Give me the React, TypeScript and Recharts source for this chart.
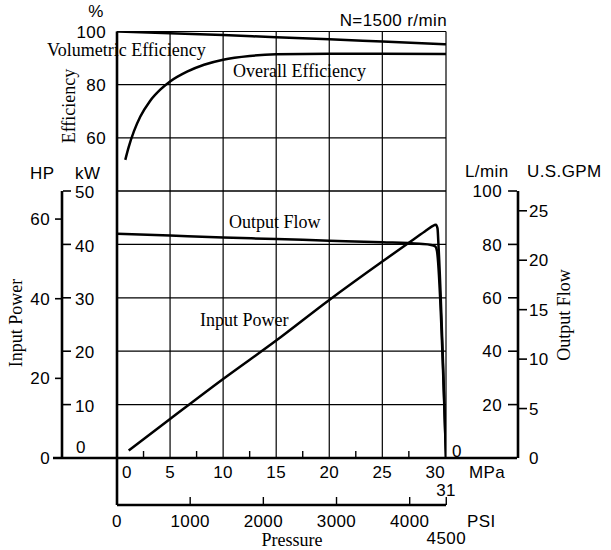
import React from 'react';
import { ComposedChart, Line, XAxis, YAxis, CartesianGrid } from 'recharts';

// all curves are plotted against pressure in MPa
const volPressure = [0, 5, 10, 15, 20, 25, 31];
const volEfficiency = [100, 99.3, 98.7, 97.8, 97.1, 96.2, 95.2];

const overallPressure = [0.78, 1.1, 1.6, 2.2, 3.1, 4.1, 5, 6.6, 8.2, 10, 12.5, 15, 20, 25, 31];
const overallEfficiency = [51.7, 56.5, 62.5, 68, 73.8, 78.2, 81.2, 84.9, 87.5, 89.4, 90.8, 91.4, 91.6, 91.6, 91.5];

const powerPressure = [1.1, 5, 10, 15, 20, 25, 27.5, 29, 29.9, 30.05, 30.2, 30.3, 31];
const inputPowerKw = [1.4, 7.3, 14.8, 22, 29.6, 36.8, 40.3, 42.4, 43.6, 43.7, 43, 39.5, 0];

const flowPressure = [0, 5, 10, 15, 20, 25, 28.5, 29.6, 30, 30.15, 31];
const outputFlowLpm = [84, 83.3, 82.6, 82, 81.4, 80.8, 80.2, 79.8, 79.2, 77.5, 0];

const mpaTicks = [0, 2.5, 5, 7.5, 10, 12.5, 15, 17.5, 20, 22.5, 25, 27.5, 30, 31];
const gridTicks = [5, 10, 15, 20, 25, 30, 31];
const psiTicks = [0, 1000, 2000, 3000, 4000, 4500];
const effTicks = [60, 80, 100];
const kwTicks = [0, 10, 20, 30, 40, 50];
const hpTicks = [0, 20, 40, 60];
const lpmTicks = [0, 20, 40, 60, 80, 100];
const gpmTicks = [0, 5, 10, 15, 20, 25];

const MPA_PER_PSI = 0.00689476;
const MAX_MPA = 31;

const toRows = (xs: number[], ys: number[]) => xs.map((p, i) => ({ p, v: ys[i] }));
const volData = toRows(volPressure, volEfficiency);
const overallData = toRows(overallPressure, overallEfficiency);
const powerData = toRows(powerPressure, inputPowerKw);
const flowData = toRows(flowPressure, outputFlowLpm);

const INK = '#000';
const SANS = '"Liberation Sans", Arial, Helvetica, sans-serif';
const SERIF = '"Liberation Serif", "Times New Roman", serif';
const sans = { fill: INK, fontSize: 17, fontFamily: SANS, letterSpacing: 0.4 };
const serif = { fill: INK, fontSize: 18, fontFamily: SERIF };
const AXIS_W = 2.6;
const LINE_W = 2.5;

// kW axis: ticks point right, into the gap before the plot
function KwTick({ x, y, payload }: any) {
    const v = payload.value;
    if (v === 0) return <text x={x + 18} y={y - 5} textAnchor="middle" {...sans}>0</text>;
    return (
        <g>
            <line x1={x} x2={x + 8} y1={y} y2={y} stroke={INK} strokeWidth={1.6} />
            <text x={x + 12} y={y + 1} dy="0.36em" textAnchor="start" {...sans}>{v}</text>
        </g>
    );
}

function HpTick({ x, y, payload }: any) {
    const v = payload.value;
    return (
        <g>
            {v === 0
                ? <line x1={x - 9} x2={x + 55} y1={y} y2={y} stroke={INK} strokeWidth={AXIS_W} />
                : <line x1={x - 7} x2={x} y1={y} y2={y} stroke={INK} strokeWidth={1.6} />}
            <text x={x - 12} y={y} dy="0.36em" textAnchor="end" {...sans}>{v}</text>
        </g>
    );
}

// L/min axis: ticks point left, the zero tick runs back to the plot edge
function LpmTick({ x, y, payload }: any) {
    const v = payload.value;
    if (v === 0) {
        return (
            <g>
                <line x1={x - 71} x2={x} y1={y} y2={y} stroke={INK} strokeWidth={AXIS_W} />
                <text x={x - 60} y={y - 1} textAnchor="middle" {...sans}>0</text>
            </g>
        );
    }
    return (
        <g>
            <line x1={x - 9} x2={x} y1={y} y2={y} stroke={INK} strokeWidth={1.6} />
            <text x={x - 15} y={y} dy="0.36em" textAnchor="end" {...sans}>{v}</text>
        </g>
    );
}

function GpmTick({ x, y, payload }: any) {
    const v = payload.value;
    return (
        <g>
            {v !== 0 && <line x1={x} x2={x + 9} y1={y} y2={y} stroke={INK} strokeWidth={1.6} />}
            <text x={x + 11} y={y} dy="0.36em" textAnchor="start" {...sans}>{v}</text>
        </g>
    );
}

function MpaTick({ x, y, payload }: any) {
    const v = payload.value;
    if (v === 31) return <text x={x} y={y + 38} textAnchor="middle" {...sans}>31</text>;
    if (v % 5 === 0) {
        return <text x={v === 0 ? x + 10 : x} y={y + 20} textAnchor="middle" {...sans}>{v}</text>;
    }
    return <line x1={x} x2={x} y1={y} y2={y - 7} stroke={INK} strokeWidth={1.4} />;
}

function PsiTick({ x, y, payload }: any) {
    const v = payload.value;
    return (
        <g>
            {v === 0
                ? <line x1={x} x2={x} y1={y} y2={y - 47} stroke={INK} strokeWidth={AXIS_W} />
                : <line x1={x} x2={x} y1={y} y2={y - 8} stroke={INK} strokeWidth={1.4} />}
            <text x={x} y={v === 4500 ? y + 39 : y + 22} textAnchor="middle" {...sans}>{v}</text>
        </g>
    );
}

const layer: React.CSSProperties = { position: 'absolute', left: 0, top: 0 };

export default function App() {
    return (
        <div style={{ position: 'absolute', left: 0, top: 0, width: 611, height: 550, background: '#fff' }}>
            {/* efficiency panel */}
            <div style={layer}>
                <ComposedChart width={611} height={550} margin={{ top: 31.5, right: 165, bottom: 359, left: 0 }}>
                    <CartesianGrid xAxisId="x" yAxisId="eff" stroke={INK} strokeWidth={1.2} />
                    <XAxis xAxisId="x" type="number" dataKey="p" domain={[0, MAX_MPA]} ticks={gridTicks}
                        allowDataOverflow hide height={0} />
                    <YAxis
                        yAxisId="eff" type="number" domain={[40, 100]} ticks={effTicks} width={117} allowDataOverflow
                        tickLine={false} tickSize={0} tickMargin={11}
                        axisLine={{ stroke: INK, strokeWidth: AXIS_W }} tick={sans}
                    />
                    <Line xAxisId="x" yAxisId="eff" data={volData} dataKey="v" type="monotone"
                        stroke={INK} strokeWidth={LINE_W} dot={false} isAnimationActive={false} />
                    <Line xAxisId="x" yAxisId="eff" data={overallData} dataKey="v" type="monotone"
                        stroke={INK} strokeWidth={LINE_W} dot={false} isAnimationActive={false} />
                </ComposedChart>
            </div>

            {/* power / flow panel; axes on each side are listed from the plot outwards */}
            <div style={layer}>
                <ComposedChart width={611} height={550} data={flowData}
                    margin={{ top: 191, right: 0, bottom: 0, left: 0 }}>
                    <CartesianGrid xAxisId="grid" yAxisId="b_kw" stroke={INK} strokeWidth={1.2} />
                    <XAxis
                        xAxisId="mpa" type="number" dataKey="p" domain={[0, MAX_MPA]} ticks={mpaTicks} height={47}
                        allowDataOverflow tickLine={false} tickSize={0} tickMargin={0} interval={0}
                        axisLine={{ stroke: INK, strokeWidth: AXIS_W }} tick={<MpaTick />}
                    />
                    <XAxis
                        xAxisId="psi" type="number" dataKey={(d: any) => d.p / MPA_PER_PSI}
                        domain={[0, MAX_MPA / MPA_PER_PSI]} ticks={psiTicks} height={45}
                        allowDataOverflow tickLine={false} tickSize={0} tickMargin={0} interval={0}
                        axisLine={{ stroke: INK, strokeWidth: AXIS_W }} tick={<PsiTick />}
                    />
                    <XAxis xAxisId="grid" type="number" dataKey="p" domain={[0, MAX_MPA]} ticks={gridTicks}
                        allowDataOverflow hide height={0} />
                    <YAxis yAxisId="a_edge" type="number" domain={[0, 50]} width={54} tick={false} allowDataOverflow
                        tickLine={false} axisLine={{ stroke: INK, strokeWidth: AXIS_W }} />
                    <YAxis yAxisId="b_kw" type="number" domain={[0, 50]} ticks={kwTicks} width={1} allowDataOverflow
                        tickLine={false} tickSize={0} tickMargin={0} interval={0}
                        axisLine={false} tick={<KwTick />} />
                    <YAxis yAxisId="c_hp" type="number" domain={[0, 67.05]} ticks={hpTicks} width={62} allowDataOverflow
                        tickLine={false} tickSize={0} tickMargin={0} interval={0}
                        axisLine={{ stroke: INK, strokeWidth: AXIS_W }} tick={<HpTick />} />
                    <YAxis yAxisId="a_edgeR" orientation="right" type="number" domain={[0, 50]} width={71}
                        allowDataOverflow tick={false} tickLine={false} axisLine={false} />
                    <YAxis yAxisId="b_lpm" orientation="right" type="number" domain={[0, 100]} ticks={lpmTicks} width={1}
                        allowDataOverflow tickLine={false} tickSize={0} tickMargin={0} interval={0}
                        axisLine={false} tick={<LpmTick />} />
                    <YAxis yAxisId="c_gpm" orientation="right" type="number" domain={[0, 27]} ticks={gpmTicks} width={93}
                        allowDataOverflow tickLine={false} tickSize={0} tickMargin={0} interval={0}
                        axisLine={{ stroke: INK, strokeWidth: AXIS_W }} tick={<GpmTick />} />
                    <Line xAxisId="mpa" yAxisId="b_kw" data={powerData} dataKey="v" type="monotone"
                        stroke={INK} strokeWidth={LINE_W} dot={false} isAnimationActive={false} />
                    <Line xAxisId="mpa" yAxisId="b_lpm" data={flowData} dataKey="v" type="monotone"
                        stroke={INK} strokeWidth={LINE_W} dot={false} isAnimationActive={false} />
                </ComposedChart>
            </div>

            {/* unit captions and curve names */}
            <svg width={611} height={550} style={{ ...layer, pointerEvents: 'none' }}>
                <text x={96} y={17} textAnchor="middle" {...sans}>%</text>
                <text x={447} y={26} textAnchor="end" {...sans}>N=1500 r/min</text>
                <text x={30} y={179} {...sans}>HP</text>
                <text x={75} y={179} {...sans}>kW</text>
                <text x={465} y={177} {...sans}>L/min</text>
                <text x={527} y={177} {...sans}>U.S.GPM</text>
                <text x={469} y={478} {...sans}>MPa</text>
                <text x={467} y={527} {...sans}>PSI</text>

                <text x={47} y={56} {...serif}>Volumetric Efficiency</text>
                <text x={233} y={77} {...serif}>Overall Efficiency</text>
                <text x={229} y={228} {...serif}>Output Flow</text>
                <text x={200} y={326} {...serif}>Input Power</text>
                <text x={292} y={546} textAnchor="middle" {...serif}>Pressure</text>
                <text x={75} y={106} textAnchor="middle" transform="rotate(-90 75 106)" {...serif}>Efficiency</text>
                <text x={22} y={323} textAnchor="middle" transform="rotate(-90 22 323)" {...serif}>Input Power</text>
                <text x={570} y={315} textAnchor="middle" transform="rotate(-90 570 315)" {...serif}>Output Flow</text>
            </svg>
        </div>
    );
}
